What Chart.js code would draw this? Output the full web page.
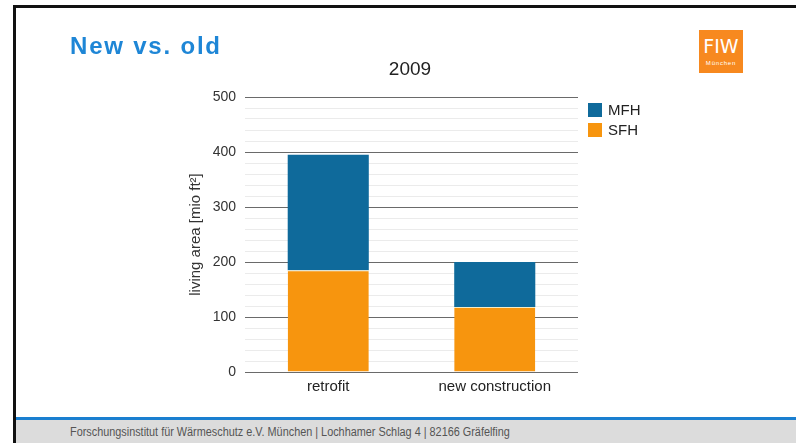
<!DOCTYPE html>
<html>
<head>
<meta charset="utf-8">
<script src="https://cdn.jsdelivr.net/npm/chart.js@4.4.1/dist/chart.umd.min.js"></script>
<style>
  html, body { margin:0; padding:0; background:#fff; }
  body { width:796px; height:443px; position:relative; overflow:hidden; font-family:"Liberation Sans", Arial, sans-serif; }
  #wrap { position:absolute; left:0; top:0; width:796px; height:443px; }
  .abs { position:absolute; }
  #topBorder { left:13px; top:5px; width:783px; height:3px; background:#111; }
  #leftBorder { left:13px; top:5px; width:3px; height:438px; background:#111; z-index:3; }
  #slideTitle { left:70px; top:32px; font-size:24px; font-weight:bold; letter-spacing:1.8px; color:#1e86d6; white-space:nowrap; line-height:28px; }
  #logo { left:699px; top:30px; width:44px; height:43px; background:#f7891f; color:#fff; text-align:center; }
  #logo .big { font-size:19px; font-weight:normal; line-height:20px; margin-top:6px; letter-spacing:0px; font-family:"DejaVu Sans", sans-serif; }
  #logo .small { font-size:6px; line-height:8px; letter-spacing:0.8px; margin-top:3px; }
  #chartTitle { left:360px; top:58px; width:100px; text-align:center; font-size:19px; color:#222; line-height:22px; }
  #legend { left:588px; top:103px; font-size:15px; color:#222; }
  #legend .item { height:20px; position:relative; white-space:nowrap; }
  #legend .sw { position:absolute; left:0; top:0; width:14px; height:14px; }
  #legend .lb { position:absolute; left:20px; top:-2px; line-height:18px; }
  #footLine { left:16px; top:417px; width:780px; height:3px; background:#1a7fd0; }
  #footBand { left:16px; top:420px; width:780px; height:23px; background:#dcdcdc; }
  #footText { left:70px; top:425px; font-family:"Liberation Sans Narrow", "Liberation Sans", Arial, sans-serif; font-size:12px; color:#555; white-space:nowrap; line-height:14px; transform:scaleX(0.905); transform-origin:0 0; }
</style>
</head>
<body>
<div id="wrap"><canvas id="c" width="796" height="443"></canvas></div>
<div class="abs" id="topBorder"></div>
<div class="abs" id="leftBorder"></div>
<div class="abs" id="slideTitle">New vs. old</div>
<div class="abs" id="logo"><div class="big">FIW</div><div class="small">München</div></div>
<div class="abs" id="chartTitle">2009</div>
<div class="abs" id="legend"></div>
<div class="abs" id="footLine"></div>
<div class="abs" id="footBand"></div>
<div class="abs" id="footText">Forschungsinstitut für Wärmeschutz e.V. München | Lochhamer Schlag 4 | 82166 Gräfelfing</div>
<script>
// ---- data ----
const categories = ['retrofit', 'new construction'];
const sfhValues = [185, 118];
const mfhValues = [210, 82];
const seriesNames = ['SFH', 'MFH'];
const seriesColors = ['#f7950e', '#0f6a9b'];
const yTickLabels = [0, 100, 200, 300, 400, 500];
const chartTitle = '2009';
const yAxisTitle = 'living area [mio ft²]';

const datasets = [
  { label: seriesNames[0], data: sfhValues, backgroundColor: seriesColors[0],
    borderColor: '#f6ecc4', borderWidth: {top:1, left:0, right:0, bottom:0}, borderSkipped: false },
  { label: seriesNames[1], data: mfhValues, backgroundColor: seriesColors[1], borderWidth: 0 }
];

// HTML legend built from datasets (MFH on top)
const legendEl = document.getElementById('legend');
datasets.slice().reverse().forEach(ds => {
  const it = document.createElement('div');
  it.className = 'item';
  it.innerHTML = '<span class="sw" style="background:' + ds.backgroundColor + '"></span><span class="lb">' + ds.label + '</span>';
  legendEl.appendChild(it);
});
document.getElementById('chartTitle').textContent = chartTitle;

new Chart(document.getElementById('c'), {
  type: 'bar',
  data: { labels: categories, datasets: datasets },
  options: {
    responsive: false,
    animation: false,
    devicePixelRatio: 1,
    layout: { padding: { left: 183, top: 97, right: 218, bottom: 41 } },
    plugins: { legend: { display: false }, title: { display: false }, tooltip: { enabled: false } },
    datasets: { bar: { categoryPercentage: 1, barPercentage: 0.487 } },
    scales: {
      x: {
        stacked: true,
        grid: { display: false, drawTicks: false },
        border: { display: false },
        ticks: { color: '#222', font: { family: 'Liberation Sans', size: 15 }, padding: 6 },
        afterFit: s => { s.height = 30; }
      },
      y: {
        stacked: true,
        min: 0, max: 500,
        border: { display: false },
        grid: {
          drawTicks: false,
          color: ctx => (ctx.tick && ctx.tick.value % 100 === 0) ? '#6a6a6a' : '#ebebeb',
          lineWidth: 1
        },
        ticks: {
          stepSize: 20,
          autoSkip: false,
          padding: 9,
          color: '#333',
          font: { family: 'Liberation Sans', size: 14 },
          callback: v => yTickLabels.includes(v) ? String(v) : ''
        },
        title: { display: true, text: yAxisTitle, color: '#333', font: { family: 'Liberation Sans', size: 15 }, padding: { top: 4, bottom: 4 } },
        afterFit: s => { s.width = 62; }
      }
    }
  }
});
</script>
</body>
</html>
